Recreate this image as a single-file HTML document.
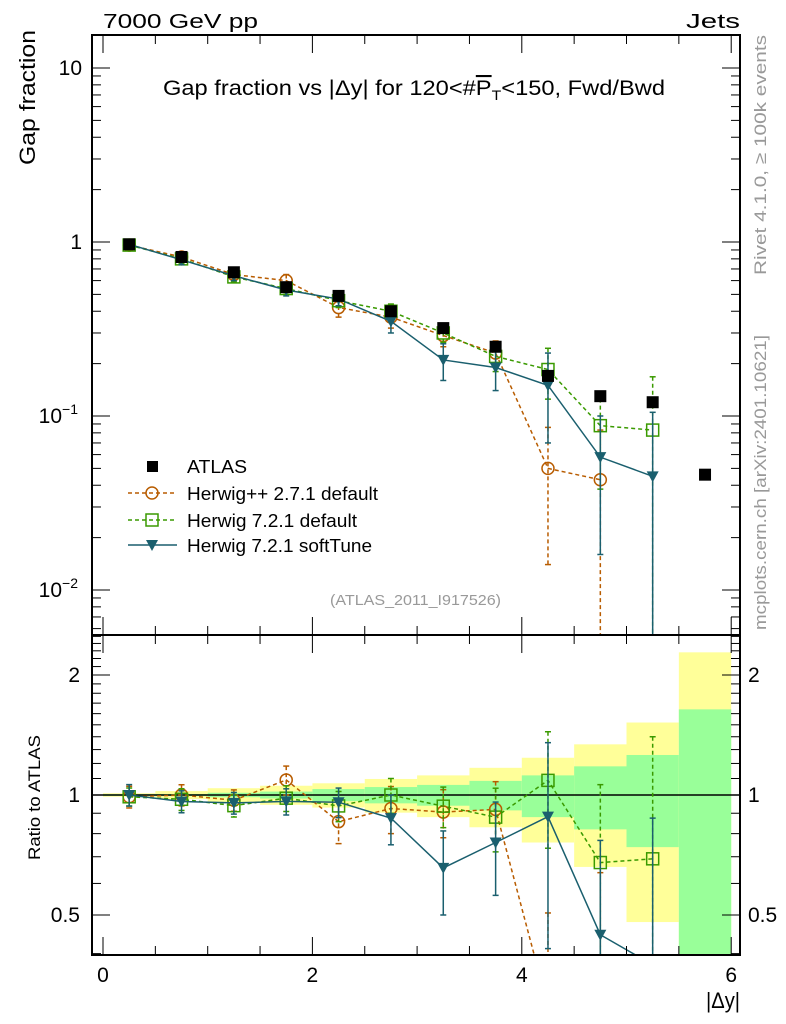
<!DOCTYPE html>
<html><head><meta charset="utf-8"><style>
html,body{margin:0;padding:0;background:#fff;overflow:hidden;width:786px;height:1024px;}
svg{display:block;font-family:"Liberation Sans",sans-serif;}
</style></head><body>
<svg id="c" width="786" height="1024" xmlns="http://www.w3.org/2000/svg">
<g id="bands"></g>
<g id="marks"></g>
<g id="axes"></g>
<text x="103" y="28" font-size="20" textLength="155" lengthAdjust="spacingAndGlyphs">7000 GeV pp</text>
<text x="686" y="28" font-size="20" textLength="54" lengthAdjust="spacingAndGlyphs">Jets</text>
<text x="163" y="95" font-size="21" textLength="502" lengthAdjust="spacingAndGlyphs">Gap fraction vs |Δy| for 120&lt;#<tspan text-decoration="overline">P</tspan><tspan font-size="14" dy="5">T</tspan><tspan dy="-5">&lt;150, Fwd/Bwd</tspan></text>
<text transform="translate(35,165) rotate(-90)" font-size="22" textLength="135" lengthAdjust="spacingAndGlyphs">Gap fraction</text>
<text transform="translate(40,860) rotate(-90)" font-size="17" textLength="125" lengthAdjust="spacingAndGlyphs">Ratio to ATLAS</text>
<text transform="translate(766,275) rotate(-90)" font-size="17" fill="#999" textLength="240" lengthAdjust="spacingAndGlyphs">Rivet 4.1.0, ≥ 100k events</text>
<text transform="translate(766,630) rotate(-90)" font-size="17" fill="#999" textLength="295" lengthAdjust="spacingAndGlyphs">mcplots.cern.ch [arXiv:2401.10621]</text>
<text x="330" y="605" font-size="15" fill="#999" textLength="171" lengthAdjust="spacingAndGlyphs">(ATLAS_2011_I917526)</text>
<text x="706" y="1008" font-size="22" textLength="34" lengthAdjust="spacingAndGlyphs">|Δy|</text>
<g id="legend"></g>
</svg>
<script>
const xCenters=[0.25,0.75,1.25,1.75,2.25,2.75,3.25,3.75,4.25,4.75,5.25,5.75];
const atlas=[0.97,0.82,0.67,0.55,0.49,0.40,0.32,0.25,0.17,0.13,0.12,0.046];
const hwpp=[0.96,0.82,0.65,0.60,0.42,0.37,0.29,0.23,0.050,0.043];
const hwppErr=[0.06,0.05,0.04,0.05,0.05,0.05,0.04,0.04,0.036,0.04];
const hw7=[0.96,0.80,0.63,0.54,0.46,0.40,0.30,0.22,0.185,0.088,0.083];
const hw7Err=[0.05,0.05,0.04,0.04,0.04,0.04,0.035,0.04,0.06,0.05,0.085];
const soft=[0.97,0.79,0.64,0.53,0.47,0.35,0.21,0.19,0.15,0.058,0.045];
const softErr=[0.06,0.05,0.04,0.04,0.04,0.05,0.05,0.05,0.08,0.042,0.06];
const bandYellow=[0.01,0.023,0.04,0.055,0.07,0.097,0.12,0.17,0.24,0.34,0.52,1.28];
const bandGreen=[0.005,0.006,0.013,0.02,0.035,0.047,0.06,0.085,0.12,0.18,0.26,0.64];
const xTickLabels=[0,2,4,6];
const yTickLabels=["10","1","10⁻¹","10⁻²"];
const yTickVals=[10,1,0.1,0.01];
const rTickVals=[0.5,1,2];
const rTickLabels=["0.5","1","2"];

const L=92,R=740,T=35,MB=635,B=955;
const sx=v=>103+104.7*v;
const sy=v=>242-174*Math.log10(v);
const sr=r=>795-398.6*Math.log10(r);
const NS='http://www.w3.org/2000/svg';
function mk(tag,attrs,parent){const e=document.createElementNS(NS,tag);for(const k in attrs)e.setAttribute(k,attrs[k]);parent.appendChild(e);return e;}
const bands=document.getElementById('bands'),marks=document.getElementById('marks'),axes=document.getElementById('axes'),leg=document.getElementById('legend');

function clipR(y){return Math.max(MB,Math.min(B,y));}
xCenters.forEach((c,i)=>{
  [[bandYellow,'#ffff99'],[bandGreen,'#99ff99']].forEach(([b,col])=>{
    const lo=Math.max(1-b[i],0.01),hi=1+b[i];
    const y1=clipR(sr(hi)),y2=clipR(sr(lo));
    const r=mk('rect',{x:sx(c-0.25),y:y1,width:sx(c+0.25)-sx(c-0.25),height:y2-y1,fill:col},bands);
    
    
  });
});
const one=mk('line',{x1:L,x2:R,y1:sr(1),y2:sr(1),stroke:'#000','stroke-width':1.5},bands);



const defs=mk('defs',{},document.getElementById('c'));
const cp1=mk('clipPath',{id:'cm'},defs);mk('rect',{x:L,y:T,width:R-L,height:MB-T},cp1);
const cp2=mk('clipPath',{id:'cr'},defs);mk('rect',{x:L,y:MB,width:R-L,height:B-MB},cp2);

function marker(g,type,x,y,col){
  if(type==='sq'){mk('rect',{x:x-6,y:y-6,width:12,height:12,fill:'#000'},g);}
  else if(type==='circ'){mk('circle',{cx:x,cy:y,r:6,fill:'#fff','fill-opacity':0,stroke:col,'stroke-width':1.5},g);}
  else if(type==='osq'){mk('rect',{x:x-6,y:y-6,width:12,height:12,fill:'none',stroke:col,'stroke-width':1.5},g);}
  else if(type==='tri'){mk('path',{d:`M${x-6},${y-5}L${x+6},${y-5}L${x},${y+6}Z`,fill:col},g);}
}
function series(name,vals,errs,col,dash,type,ratio){
  const g=mk('g',{'clip-path':ratio?'url(#cr)':'url(#cm)'},marks);
  
  
  const lo=ratio?MB-20:T-20, hi=ratio?B+20:MB+20;
  const cl=y=>Math.max(lo,Math.min(hi,y));
  const Yraw=ratio?(v,i)=>sr(v/atlas[i]):(v)=>sy(v);
  const safe=(v)=>Math.max(v,1e-4);
  if(col){
    const P=vals.map((v,i)=>[sx(xCenters[i]),Yraw(v,i)]);
    const pts=[];
    for(let k=0;k<P.length;k++){
      if(k>0){const [x0,y0]=P[k-1],[x1,y1]=P[k];
        if(y1>hi&&y0<=hi){pts.push([x0+(x1-x0)*(hi-y0)/(y1-y0),hi]);}
        else if(y0>hi&&y1<=hi){pts.push([x0+(x1-x0)*(hi-y0)/(y1-y0),hi]);}
      }
      if(P[k][1]<=hi)pts.push(P[k]);
    }
    mk('polyline',{points:pts.map(p=>p[0]+','+p[1]).join(' '),fill:'none',stroke:col,'stroke-width':1.5,'stroke-dasharray':dash||'none'},g);
  }
  vals.forEach((v,i)=>{
    const x=sx(xCenters[i]);
    if(errs){
      const y1=cl(Yraw(v+errs[i],i)),y2=cl(Yraw(safe(v-errs[i]),i));
      mk('line',{x1:x,x2:x,y1:y1,y2:y2,stroke:col,'stroke-width':1.5,'stroke-dasharray':dash||'none'},g);
      mk('line',{x1:x-3,x2:x+3,y1:y1,y2:y1,stroke:col,'stroke-width':1.5},g);
      mk('line',{x1:x-3,x2:x+3,y1:y2,y2:y2,stroke:col,'stroke-width':1.5},g);
    }
    const ym=Yraw(v,i);
    if(ym<=hi)marker(g,type,x,ym,col);
  });
}
[false,true].forEach(rt=>{
  series('herwigpp-271',hwpp,hwppErr,'#b85c00','4,3','circ',rt);
  series('herwig7-default',hw7,hw7Err,'#3a9a00','4,3','osq',rt);
  series('herwig7-softtune',soft,softErr,'#1a5f6e',null,'tri',rt);
});
series('atlas-data',atlas,null,null,null,'sq',false);

[[T,MB],[MB,B]].forEach(([a,b])=>mk('rect',{x:L,y:a,width:R-L,height:b-a,fill:'none',stroke:'#000','stroke-width':2},axes));
for(let v=0;v<=6.001;v+=0.5){
  const x=sx(v),maj=Math.abs(v-Math.round(v/2)*2)<1e-6;
  const len=maj?18:9;
  [T,MB].forEach(y0=>{mk('line',{x1:x,x2:x,y1:y0,y2:y0+len,stroke:'#000','stroke-width':1},axes);});
  [MB,B].forEach(y0=>{mk('line',{x1:x,x2:x,y1:y0,y2:y0-len,stroke:'#000','stroke-width':1},axes);});
}
xTickLabels.forEach(v=>{const t=mk('text',{x:sx(v),y:982,'font-size':21,'text-anchor':'middle'},axes);t.textContent=v;
  });
for(let d=-3;d<=1;d++){for(let m=1;m<=9;m++){const v=m*Math.pow(10,d);const y=sy(v);if(y<T||y>MB)continue;
  const len=m===1?18:9;
  mk('line',{x1:L,x2:L+len,y1:y,y2:y,stroke:'#000','stroke-width':1},axes);
  mk('line',{x1:R,x2:R-len,y1:y,y2:y,stroke:'#000','stroke-width':1},axes);}}
yTickVals.forEach((v,i)=>{const t=mk('text',{x:82,y:sy(v)+7,'font-size':21,'text-anchor':'end'},axes);
  const lab=yTickLabels[i];
  if(lab.startsWith('10⁻')){t.textContent='10';const s=mk('tspan',{dy:-9,'font-size':14},t);s.textContent=lab==='10⁻¹'?'−1':'−2';t.setAttribute('x',78);}
  else t.textContent=lab;
  });
for(let r=0.4;r<=2.55;r+=0.1){const y=sr(r);if(y<MB||y>B)continue;const maj=rTickVals.some(q=>Math.abs(q-r)<1e-6);const len=maj?18:9;
  mk('line',{x1:L,x2:L+len,y1:y,y2:y,stroke:'#000','stroke-width':1},axes);
  mk('line',{x1:R,x2:R-len,y1:y,y2:y,stroke:'#000','stroke-width':1},axes);}
rTickVals.forEach((v,i)=>{
  const t=mk('text',{x:80,y:sr(v)+7,'font-size':21,'text-anchor':'end'},axes);t.textContent=rTickLabels[i];
  
  const t2=mk('text',{x:748,y:sr(v)+7,'font-size':21},axes);t2.textContent=rTickLabels[i];
  });

const items=[['ATLAS',null,null,'sq',60],['Herwig++ 2.7.1 default','#b85c00','4,3','circ',191],['Herwig 7.2.1 default','#3a9a00','4,3','osq',170],['Herwig 7.2.1 softTune','#1a5f6e',null,'tri',185]];
const ly=[466,493,520,545];
items.forEach((it,i)=>{
  const g=mk('g',{},leg);
  
  
  if(it[1])mk('line',{x1:128,x2:177,y1:ly[i],y2:ly[i],stroke:it[1],'stroke-width':1.5,'stroke-dasharray':it[2]||'none'},g);
  if(it[3]==='sq')mk('rect',{x:147,y:ly[i]-5,width:11,height:11,fill:'#000'},g);
  else marker(g,it[3],152,ly[i],it[1]);
  const t=mk('text',{x:187,y:ly[i]+7,'font-size':18,textLength:it[4],lengthAdjust:'spacingAndGlyphs'},g);t.textContent=it[0];
});
</script>
</body></html>
